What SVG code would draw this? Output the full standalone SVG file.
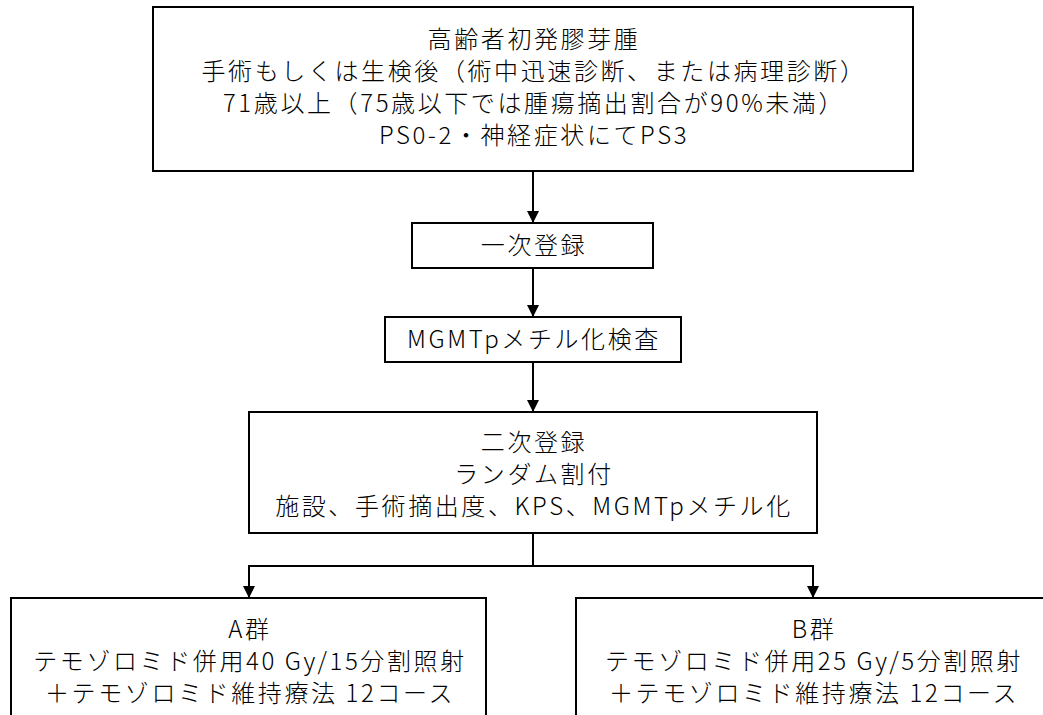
<svg xmlns="http://www.w3.org/2000/svg" width="1043" height="715" viewBox="0 0 1043 715">
<style>
.box{fill:#fff;stroke:#000;stroke-width:2}
.t{font-family:"Noto Sans CJK JP","Noto Sans",sans-serif;font-size:24px;letter-spacing:2.6px;fill:#000;text-anchor:middle;font-weight:300}
.ln{fill:none;stroke:#000;stroke-width:2}
</style>
<defs>
<marker id="ah" viewBox="0 0 12 12" refX="12" refY="6" markerWidth="12" markerHeight="12" markerUnits="userSpaceOnUse" orient="auto">
<path d="M0,0 L12,6 L0,12 Z" fill="#000"/>
</marker>
</defs>
<rect width="1043" height="715" fill="#fff"/>
<g id="connectors">
<line class="ln" x1="533" y1="171" x2="533" y2="223" marker-end="url(#ah)"/>
<line class="ln" x1="533" y1="268" x2="533" y2="317" marker-end="url(#ah)"/>
<line class="ln" x1="533" y1="362" x2="533" y2="412" marker-end="url(#ah)"/>
<polyline class="ln" points="533,533 533,566"/>
<polyline class="ln" points="249,566 813,566"/>
<line class="ln" x1="249" y1="565" x2="249" y2="598" marker-end="url(#ah)"/>
<line class="ln" x1="813" y1="565" x2="813" y2="598" marker-end="url(#ah)"/>
</g>
<g id="n1">
<rect class="box" x="153" y="7" width="760" height="164"/>
<text class="t"><tspan x="534" y="48">高齢者初発膠芽腫</tspan><tspan x="534" y="80">手術もしくは生検後（術中迅速診断、または病理診断）</tspan><tspan x="534" y="112">71歳以上（75歳以下では腫瘍摘出割合が90%未満）</tspan><tspan x="534" y="144">PS0-2・神経症状にてPS3</tspan></text>
</g>
<g id="n2">
<rect class="box" x="412" y="223" width="241" height="45"/>
<text class="t" x="534" y="254">一次登録</text>
</g>
<g id="n3">
<rect class="box" x="385" y="317" width="296" height="45"/>
<text class="t" x="534" y="348">MGMTpメチル化検査</text>
</g>
<g id="n4">
<rect class="box" x="249" y="412" width="568" height="121"/>
<text class="t"><tspan x="534" y="451">二次登録</tspan><tspan x="534" y="483">ランダム割付</tspan><tspan x="534" y="515">施設、手術摘出度、KPS、MGMTpメチル化</tspan></text>
</g>
<g id="n5">
<rect class="box" x="11" y="598" width="475" height="130"/>
<text class="t"><tspan x="250" y="638">A群</tspan><tspan x="250" y="670">テモゾロミド併用40 Gy/15分割照射</tspan><tspan x="250" y="702">＋テモゾロミド維持療法 12コース</tspan></text>
</g>
<g id="n6">
<rect class="box" x="576" y="598" width="474" height="130"/>
<text class="t"><tspan x="814" y="638">B群</tspan><tspan x="814" y="670">テモゾロミド併用25 Gy/5分割照射</tspan><tspan x="814" y="702">＋テモゾロミド維持療法 12コース</tspan></text>
</g>
</svg>
